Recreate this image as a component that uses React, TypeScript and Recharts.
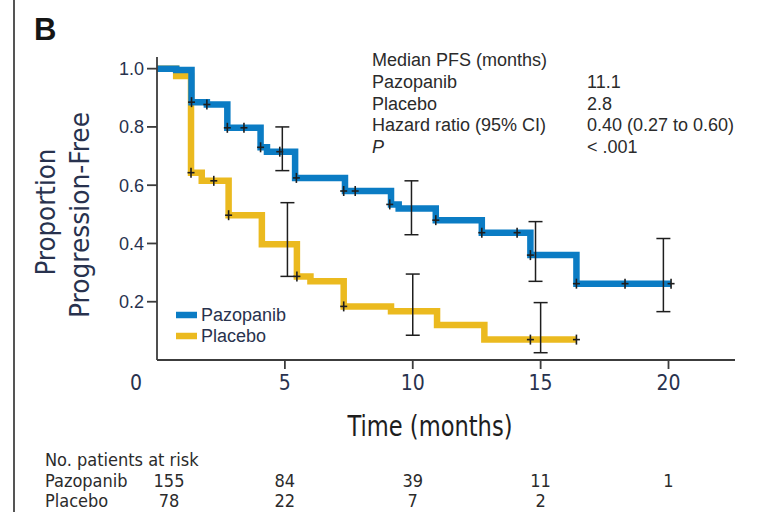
import React from 'react';
import { ComposedChart, Line, Scatter, ErrorBar, XAxis, YAxis } from 'recharts';

// Kaplan–Meier step points: survival value holds from each time onward
const pazopanibTimes = [0, 0.75, 1.35, 1.95, 2.75, 4.05, 4.3, 5.4, 7.35, 9.15, 9.45, 10.9, 12.7, 14.6, 16.4, 20.1];
const pazopanibSurv = [1.0, 0.995, 0.885, 0.877, 0.797, 0.73, 0.715, 0.625, 0.58, 0.534, 0.52, 0.48, 0.437, 0.36, 0.262, 0.262];

const placeboTimes = [0, 0.75, 1.33, 1.75, 2.8, 4.1, 5.47, 6.0, 7.3, 9.15, 10.95, 12.8, 16.4];
const placeboSurv = [1.0, 0.975, 0.643, 0.615, 0.497, 0.397, 0.287, 0.27, 0.184, 0.167, 0.12, 0.07, 0.07];

// Censored observations
const pazopanibCensorTimes = [1.35, 1.95, 2.75, 3.4, 4.05, 4.8, 5.45, 7.3, 7.75, 9.1, 10.9, 12.7, 14.08, 14.6, 16.4, 18.3, 20.1];
const pazopanibCensorSurv = [0.885, 0.877, 0.797, 0.797, 0.73, 0.715, 0.625, 0.58, 0.58, 0.534, 0.48, 0.437, 0.437, 0.36, 0.262, 0.262, 0.262];

const placeboCensorTimes = [1.33, 2.22, 2.8, 5.47, 7.3, 14.6, 16.4];
const placeboCensorSurv = [0.643, 0.615, 0.497, 0.287, 0.184, 0.07, 0.07];

// 95% confidence intervals at landmark times
const pazopanibCiTimes = [4.9, 9.95, 14.8, 19.8];
const pazopanibCiLow = [0.65, 0.43, 0.27, 0.166];
const pazopanibCiHigh = [0.80, 0.615, 0.475, 0.417];

const placeboCiTimes = [5.1, 10.0, 15.0];
const placeboCiLow = [0.287, 0.085, 0.025];
const placeboCiHigh = [0.54, 0.295, 0.197];

// Axis ticks
const timeTicks = [0, 5, 10, 15, 20];
const proportionTicks = [0.2, 0.4, 0.6, 0.8, 1.0];

// Number of patients at risk
const riskTimes = [0, 5, 10, 15, 20];
const pazopanibAtRisk = ['155', '84', '39', '11', '1'];
const placeboAtRisk = ['78', '22', '7', '2'];

// Summary statistics
const statLabels = ['Pazopanib', 'Placebo', 'Hazard ratio (95% CI)', 'P'];
const statValues = ['11.1', '2.8', '0.40 (0.27 to 0.60)', '< .001'];

const BLUE = '#0b7cc4';
const YELLOW = '#ebba1f';
const AXIS = '#3c3c3c';
const INK = '#28324e';
const COND = "'Liberation Sans Narrow', 'DejaVu Sans Condensed', 'Arial Narrow', sans-serif";
const SANS = "'Liberation Sans', Arial, Helvetica, sans-serif";

const W = 759;
const H = 512;
const PLOT_LEFT = 157;
const PLOT_RIGHT = 735;
const PLOT_TOP = 57;
const PLOT_BOTTOM = 360;
const X_MAX = 22.6;

const toPoints = (ts: number[], ss: number[]) => ts.map((t, i) => ({ t, s: ss[i] }));
const toCi = (ts: number[], lo: number[], hi: number[]) =>
  ts.map((t, i) => ({ t, s: (lo[i] + hi[i]) / 2, err: (hi[i] - lo[i]) / 2 }));

const pazopanibCurve = toPoints(pazopanibTimes, pazopanibSurv);
const placeboCurve = toPoints(placeboTimes, placeboSurv);
const pazopanibCensors = toPoints(pazopanibCensorTimes, pazopanibCensorSurv);
const placeboCensors = toPoints(placeboCensorTimes, placeboCensorSurv);
const ciData = [
  ...toCi(pazopanibCiTimes, pazopanibCiLow, pazopanibCiHigh),
  ...toCi(placeboCiTimes, placeboCiLow, placeboCiHigh),
];

const timeToPx = (t: number) => PLOT_LEFT + (t / X_MAX) * (PLOT_RIGHT - PLOT_LEFT);

const CensorMark = (props: any) => {
  const { cx, cy } = props;
  if (cx == null || cy == null) return <g />;
  return (
    <g stroke="#1e1e1e" strokeWidth={1.6}>
      <line x1={cx - 3.5} x2={cx + 3.5} y1={cy} y2={cy} />
      <line x1={cx} x2={cx} y1={cy - 5} y2={cy + 5} />
    </g>
  );
};

const NoMark = () => <g />;

const TimeTick = (props: any) => {
  const { x, y, payload } = props;
  const v = payload.value;
  return (
    <g>
      {v !== 0 && <line x1={x} x2={x} y1={y} y2={y + 9} stroke={AXIS} strokeWidth={1.8} />}
      <text
        x={v === 0 ? x - 21 : x}
        y={y + 30}
        textAnchor="middle"
        fontFamily={COND}
        fontSize={21}
        fill={INK}
      >
        {v}
      </text>
    </g>
  );
};

export default function App() {
  const statTop = 66;
  const statStep = 21.8;
  return (
    <div style={{ position: 'absolute', left: 0, top: 0, width: W, height: H, background: '#fff' }}>
      <ComposedChart
        width={W}
        height={H}
        margin={{ top: PLOT_TOP, right: W - PLOT_RIGHT, bottom: H - PLOT_BOTTOM - 30, left: PLOT_LEFT - 60 }}
      >
        <XAxis
          type="number"
          dataKey="t"
          domain={[0, X_MAX]}
          ticks={timeTicks}
          allowDataOverflow
          height={30}
          tickSize={0}
          tickMargin={0}
          tickLine={false}
          axisLine={{ stroke: AXIS, strokeWidth: 1.8 }}
          tick={<TimeTick />}
        />
        <YAxis
          type="number"
          domain={[0, 1.04]}
          ticks={proportionTicks}
          allowDataOverflow
          width={60}
          tickSize={10}
          tickMargin={3}
          tickFormatter={(v: number) => v.toFixed(1)}
          axisLine={{ stroke: AXIS, strokeWidth: 1.8 }}
          tickLine={{ stroke: AXIS, strokeWidth: 1.8 }}
          tick={{ fill: INK, fontSize: 18, fontFamily: SANS }}
        />
        <Line
          data={placeboCurve}
          dataKey="s"
          type="stepAfter"
          stroke={YELLOW}
          strokeWidth={6.5}
          dot={false}
          activeDot={false}
          isAnimationActive={false}
        />
        <Line
          data={pazopanibCurve}
          dataKey="s"
          type="stepAfter"
          stroke={BLUE}
          strokeWidth={6.5}
          dot={false}
          activeDot={false}
          isAnimationActive={false}
        />
        <Scatter data={ciData} dataKey="s" shape={NoMark} isAnimationActive={false}>
          <ErrorBar dataKey="err" direction="y" width={7} stroke="#1e1e1e" strokeWidth={1.5} />
        </Scatter>
        <Scatter data={pazopanibCensors} dataKey="s" shape={CensorMark} isAnimationActive={false} />
        <Scatter data={placeboCensors} dataKey="s" shape={CensorMark} isAnimationActive={false} />
      </ComposedChart>

      <svg width={W} height={H} style={{ position: 'absolute', left: 0, top: 0, pointerEvents: 'none' }}>
        <line x1={14} x2={14} y1={0} y2={H} stroke="#555" strokeWidth={2} />
        <text x={34} y={40} fontFamily={SANS} fontWeight="bold" fontSize={31} fill="#151515">B</text>

        <text
          x={55}
          y={212}
          transform="rotate(-90 55 212)"
          textAnchor="middle"
          fontFamily={COND}
          fontSize={27}
          textLength={127}
          lengthAdjust="spacingAndGlyphs"
          fill={INK}
        >
          Proportion
        </text>
        <text
          x={89}
          y={215}
          transform="rotate(-90 89 215)"
          textAnchor="middle"
          fontFamily={COND}
          fontSize={27}
          textLength={206}
          lengthAdjust="spacingAndGlyphs"
          fill={INK}
        >
          Progression-Free
        </text>

        <text
          x={430}
          y={436}
          textAnchor="middle"
          fontFamily={COND}
          fontSize={29}
          textLength={165}
          lengthAdjust="spacingAndGlyphs"
          fill="#1e1e1e"
        >
          Time (months)
        </text>

        {/* Legend */}
        <line x1={176} x2={197} y1={315} y2={315} stroke={BLUE} strokeWidth={6.5} />
        <text x={201} y={321} fontFamily={SANS} fontSize={18} fill={INK}>Pazopanib</text>
        <line x1={176} x2={197} y1={336} y2={336} stroke={YELLOW} strokeWidth={6.5} />
        <text x={201} y={342} fontFamily={SANS} fontSize={18} fill={INK}>Placebo</text>

        {/* Summary statistics */}
        <g fontFamily={SANS} fontSize={18} fill="#2b2b2b">
          <text x={372} y={statTop}>Median PFS (months)</text>
          {statLabels.map((lab, i) => (
            <text key={lab} x={372} y={statTop + statStep * (i + 1)} fontStyle={lab === 'P' ? 'italic' : 'normal'}>
              {lab}
            </text>
          ))}
          {statValues.map((val, i) => (
            <text key={val} x={587} y={statTop + statStep * (i + 1)}>{val}</text>
          ))}
        </g>

        {/* Patients at risk */}
        <g fontFamily={COND} fontSize={18} fill="#2b2b2b">
          <text x={45} y={466}>No. patients at risk</text>
          <text x={45} y={487}>Pazopanib</text>
          <text x={45} y={507}>Placebo</text>
          {pazopanibAtRisk.map((n, i) => (
            <text key={'p' + i} x={riskTimes[i] === 0 ? 169 : timeToPx(riskTimes[i])} y={487} textAnchor="middle">{n}</text>
          ))}
          {placeboAtRisk.map((n, i) => (
            <text key={'q' + i} x={riskTimes[i] === 0 ? 169 : timeToPx(riskTimes[i])} y={507} textAnchor="middle">{n}</text>
          ))}
        </g>
      </svg>
    </div>
  );
}
